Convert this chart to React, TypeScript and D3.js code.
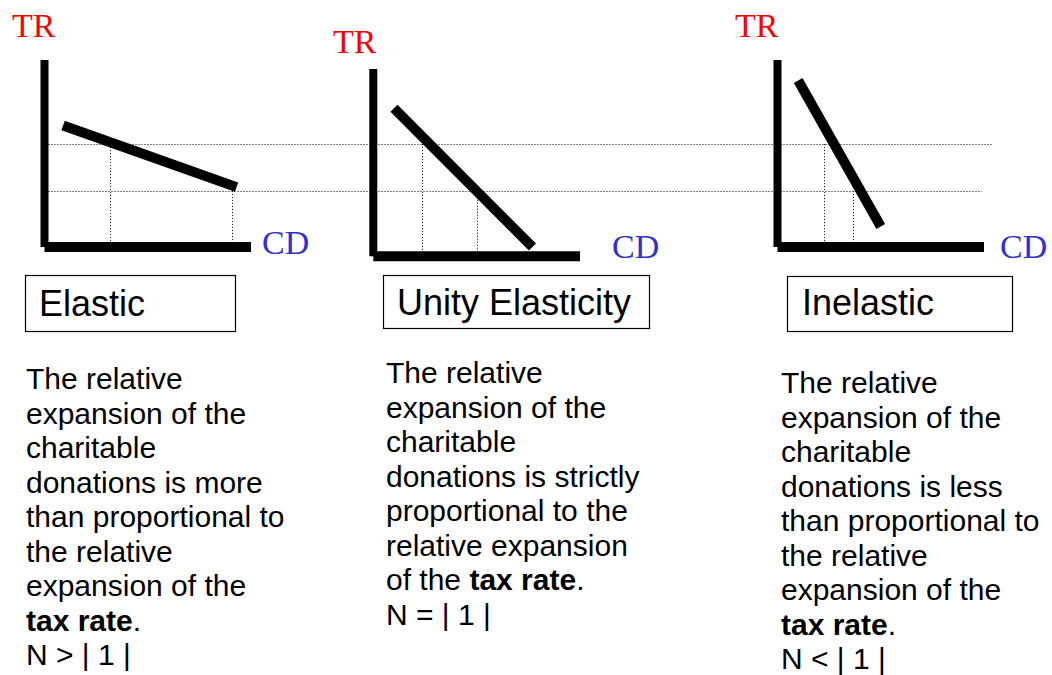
import { useEffect, useRef } from "react"
import * as d3 from "d3"

const W = 1052
const H = 675

// content
const panelNames = ["Elastic", "Unity Elasticity", "Inelastic"]
const yLabel = "TR"
const xLabel = "CD"

// demand line ends per panel, [CD, TR] in axis units 0..10
const demandLines: [number, number][][] = [
  [[0.9, 6.5], [9.3, 3.2]],
  [[1.0, 7.9], [7.7, 0.5]],
  [[1.0, 8.9], [5.0, 1.1]],
]
// TR levels of the two dotted guides
const trLevels = [[5.5, 3.0], [6.0, 3.5], [5.5, 3.0]]
// CD values dropped from those levels
const cdLevels = [[3.15, 9.1], [2.35, 5.0], [2.25, 3.65]]
// how far the long dotted guides reach into the last panel (CD units)
const guideReach = [10.4, 9.9]

const descriptions = [
  ["The relative", "expansion of the", "charitable", "donations is more", "than proportional to", "the relative", "expansion of the", "**tax rate**.", "N > | 1 |"],
  ["The relative", "expansion of the", "charitable", "donations is strictly", "proportional to the", "relative expansion", "of the **tax rate**.", "N = | 1 |"],
  ["The relative", "expansion of the", "charitable", "donations is less", "than proportional to", "the relative", "expansion of the", "**tax rate**.", "N < | 1 |"],
]

// layout (pixels)
const layout = [
  { ox: 44.5, oy: 247, top: 60, right: 251, tr: [12, 37], cd: [262, 254], box: [25.5, 275.5, 210, 56], label: [39, 316], desc: [26, 389] },
  { ox: 373.3, oy: 256.3, top: 69, right: 580, tr: [333, 53], cd: [612, 258], box: [383.5, 275.5, 266, 53], label: [397, 315], desc: [386, 383] },
  { ox: 777.5, oy: 247, top: 60, right: 984, tr: [735, 37], cd: [1000, 258], box: [787.5, 276.5, 225, 55], label: [802, 315], desc: [781, 393] },
]

const serif = "'Liberation Serif', 'Times New Roman', serif"
const sans = "'Liberation Sans', Arial, sans-serif"

// snap a 1px dotted line onto a pixel row
const crisp = (v: number) => Math.round(v) + 0.5

export default function App() {
  const ref = useRef<SVGSVGElement>(null)

  useEffect(() => {
    const svg = d3.select(ref.current)
    svg.selectAll("*").remove()
    svg.append("rect").attr("width", W).attr("height", H).attr("fill", "#fff")

    const scales = layout.map(l => ({
      x: d3.scaleLinear([0, 10], [l.ox, l.right]),
      y: d3.scaleLinear([0, 10], [l.oy, l.top]),
    }))

    // long dotted guides across the slide
    const guides = svg.append("g")
    trLevels[0].forEach((lvl, i) => {
      guides.append("line")
        .attr("x1", scales[0].x(0) + 4)
        .attr("x2", scales[2].x(guideReach[i]))
        .attr("y1", crisp(scales[0].y(lvl)))
        .attr("y2", crisp(scales[0].y(lvl)))
        .attr("stroke", "#000")
        .attr("stroke-width", 1)
        .attr("stroke-dasharray", "1,2")
    })

    layout.forEach((l, p) => {
      const { x, y } = scales[p]
      const g = svg.append("g")

      // vertical drops
      cdLevels[p].forEach((cd, i) => {
        g.append("line")
          .attr("x1", crisp(x(cd))).attr("x2", crisp(x(cd)))
          .attr("y1", y(trLevels[p][i])).attr("y2", y(0))
          .attr("stroke", "#000")
          .attr("stroke-width", 1)
          .attr("stroke-dasharray", "1,2")
      })

      // axes
      g.append("line")
        .attr("x1", x(0)).attr("x2", x(0))
        .attr("y1", y(10)).attr("y2", y(0))
        .attr("stroke", "#000").attr("stroke-width", 8)
      g.append("line")
        .attr("x1", x(0)).attr("x2", x(10))
        .attr("y1", y(0)).attr("y2", y(0))
        .attr("stroke", "#000").attr("stroke-width", 10)

      // demand
      g.append("path")
        .attr("d", d3.line<[number, number]>().x(d => x(d[0])).y(d => y(d[1]))(demandLines[p]))
        .attr("fill", "none")
        .attr("stroke", "#000")
        .attr("stroke-width", 10)

      g.append("text")
        .attr("x", l.tr[0]).attr("y", l.tr[1])
        .attr("font-family", serif).attr("font-size", 34)
        .attr("fill", "#ff0000")
        .text(yLabel)
      g.append("text")
        .attr("x", l.cd[0]).attr("y", l.cd[1])
        .attr("font-family", serif).attr("font-size", 34)
        .attr("fill", "#3333cc")
        .text(xLabel)

      // name box
      g.append("rect")
        .attr("x", l.box[0]).attr("y", l.box[1])
        .attr("width", l.box[2]).attr("height", l.box[3])
        .attr("fill", "#fff").attr("stroke", "#000").attr("stroke-width", 1.2)
      g.append("text")
        .attr("x", l.label[0]).attr("y", l.label[1])
        .attr("font-family", sans).attr("font-size", 36)
        .attr("fill", "#000")
        .text(panelNames[p])

      // description
      const t = g.append("text")
        .attr("font-family", sans).attr("font-size", 30)
        .attr("fill", "#000")
      descriptions[p].forEach((line, i) => {
        const row = t.append("tspan")
          .attr("x", l.desc[0])
          .attr("y", l.desc[1] + i * 34.5)
        line.split("**").forEach((part, k) => {
          if (!part) return
          row.append("tspan")
            .attr("font-weight", k % 2 ? "bold" : "normal")
            .text(part)
        })
      })
    })
  }, [])

  return (
    <div style={{ position: "absolute", left: 0, top: 0 }}>
      <svg ref={ref} width={W} height={H} style={{ display: "block" }} />
    </div>
  )
}
